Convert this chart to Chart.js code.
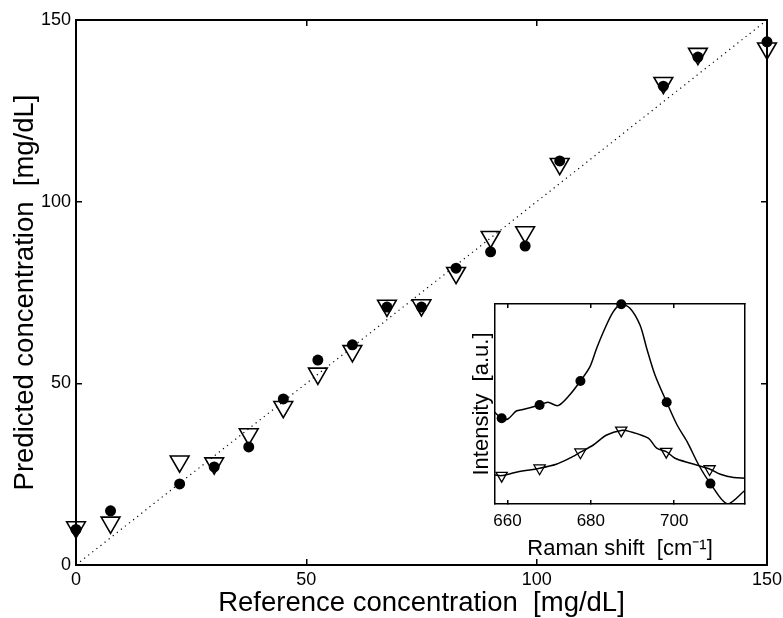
<!DOCTYPE html>
<html lang="en">
<head>
<meta charset="UTF-8">
<title>Predicted vs reference concentration</title>
<script src="https://cdn.jsdelivr.net/npm/chart.js@4.4.3/dist/chart.umd.min.js"></script>
<style>
  body { margin: 0; background: #fff; }
  #wrap { position: relative; width: 783px; height: 618px; }
  #main { position: absolute; left: 0; top: 0; }
  #inset { position: absolute; left: 462px; top: 296px; }
</style>
</head>
<body>
<div id="wrap">
  <canvas id="main" width="783" height="618"></canvas>
  <canvas id="inset" width="296" height="266"></canvas>
</div>
<script>
// main plot: reference vs predicted (mg/dL)
const refConc = [0, 7.5, 22.5, 30, 37.5, 45, 52.5, 60, 67.5, 75, 82.5, 90, 97.5, 105, 127.5, 135, 150];
const predCircle = [9.8, 14.9, 22.3, 27.0, 32.5, 45.7, 56.4, 60.6, 71.0, 71.0, 81.7, 86.2, 87.8, 111.2, 131.8, 139.8, 144.0];
const predTriangle = [10.4, 11.7, 28.5, 28.0, 36.0, 43.5, 52.7, 58.9, 71.4, 71.5, 80.4, 90.3, 91.6, 110.4, 132.7, 140.7, 142.2];
const identity = [0, 150];
const mainTicks = [0, 50, 100, 150];

// inset: Raman spectra around the peak
const circleShift = [656.9, 658.6, 660.1, 662.1, 663.7, 667.7, 669.7, 672.1, 674.9, 677.5, 679.8, 681.4, 683.4, 685.4, 687.3, 689.4, 691.8, 693.4, 695.4, 698.2, 700.7, 703.1, 705.9, 708.7, 712.8, 717.1];
const circleCurve = [45.9, 42.9, 42.5, 46.5, 47.2, 49.5, 50.9, 49.2, 54.5, 61.5, 68.7, 77.9, 87.9, 96.2, 99.9, 97.9, 89.5, 77.9, 64.5, 50.9, 39.5, 31.2, 19.5, 10.2, 0, 7];
const triShift = [656.9, 658.6, 662.1, 667.7, 671.7, 674.9, 677.5, 680.6, 683.8, 687.3, 689.4, 693.8, 695.8, 698.1, 700.2, 703.9, 708.5, 711.1, 714.3, 717.1];
const triCurve = [14.5, 14.2, 15.9, 17.9, 19.9, 22.9, 25.9, 29.5, 34.5, 36.8, 36.2, 32.9, 27.9, 26.2, 22.9, 20.4, 17.5, 14.9, 13.2, 12.9];
const circleMarkX = [658.6, 667.7, 677.5, 687.3, 698.2, 708.7];
const circleMarkY = [42.9, 49.5, 61.5, 99.9, 50.9, 10.2];
const triMarkX = [658.6, 667.7, 677.5, 687.3, 698.1, 708.5];
const triMarkY = [14.2, 17.9, 25.9, 36.8, 26.2, 17.5];
const insetTicks = [660, 680, 700];

Chart.defaults.font.family = '"Liberation Sans", Arial, Helvetica, sans-serif';
Chart.defaults.color = '#000';

const pts = (xs, ys) => xs.map((x, i) => ({ x: x, y: ys[i] }));
const fixedTicks = list => scale => { scale.ticks = list.map(v => ({ value: v })); };

// axis with inward ticks, like the original figure
function axis(pos, min, max, ticks, size, opts) {
    const horiz = pos === 'top' || pos === 'bottom';
    return Object.assign({
        type: 'linear',
        position: pos,
        min: min,
        max: max,
        afterBuildTicks: fixedTicks(ticks),
        afterFit: s => {
            // fixed box size, no extra room for end labels
            if (horiz) { s.height = size; s.paddingLeft = 0; s.paddingRight = 0; }
            else { s.width = size; s.paddingTop = 0; s.paddingBottom = 0; }
        },
        grid: { drawOnChartArea: false, drawTicks: true, tickLength: -opts.tick, color: '#000', lineWidth: 1.5 },
        border: { color: '#000', width: opts.border },
        ticks: { display: false }
    }, opts.extra || {});
}

new Chart(document.getElementById('main'), {
    type: 'scatter',
    data: {
        datasets: [
            {
                label: 'circles',
                data: pts(refConc, predCircle),
                pointStyle: 'circle',
                pointRadius: 5.5,
                pointBackgroundColor: '#000',
                pointBorderColor: '#000',
                pointBorderWidth: 0,
                clip: false
            },
            {
                label: 'triangles',
                data: pts(refConc, predTriangle),
                pointStyle: 'triangle',
                pointRotation: 180,
                pointRadius: 10.8,
                pointBackgroundColor: 'rgba(0,0,0,0)',
                pointBorderColor: '#000',
                pointBorderWidth: 1.6,
                clip: false
            },
            {
                label: 'y = x',
                data: pts(identity, identity),
                showLine: true,
                pointRadius: 0,
                borderColor: '#000',
                borderWidth: 1.2,
                borderDash: [1.2, 4]
            }
        ]
    },
    options: {
        responsive: false,
        animation: false,
        layout: { padding: { top: 20, right: 16, left: 0, bottom: 0 } },
        plugins: { legend: { display: false }, tooltip: { enabled: false } },
        scales: {
            x: axis('bottom', 0, 150, mainTicks, 53, { tick: 6, border: 2, extra: {
                ticks: { display: true, padding: 10, maxRotation: 0, font: { size: 18 } },
                title: { display: true, text: 'Reference concentration  [mg/dL]', font: { size: 27.5, lineHeight: 1 }, padding: { top: 0, bottom: 1 } }
            } }),
            y: axis('left', 0, 150, mainTicks, 76, { tick: 6, border: 2, extra: {
                ticks: { display: true, padding: 11, font: { size: 18 } },
                title: { display: true, text: 'Predicted concentration  [mg/dL]', font: { size: 27.5, lineHeight: 1 }, padding: { top: 12, bottom: 0 } }
            } }),
            x2: axis('top', 0, 150, mainTicks, 0, { tick: 6, border: 2 }),
            y2: axis('right', 0, 150, mainTicks, 0, { tick: 6, border: 2 })
        }
    }
});

new Chart(document.getElementById('inset'), {
    type: 'scatter',
    data: {
        datasets: [
            {
                label: 'circle marks',
                data: pts(circleMarkX, circleMarkY),
                pointStyle: 'circle',
                pointRadius: 5,
                pointBackgroundColor: '#000',
                pointBorderWidth: 0,
                clip: false
            },
            {
                label: 'triangle marks',
                data: pts(triMarkX, triMarkY),
                pointStyle: 'triangle',
                pointRotation: 180,
                pointRadius: 6.5,
                pointBackgroundColor: 'rgba(0,0,0,0)',
                pointBorderColor: '#000',
                pointBorderWidth: 1.3,
                clip: false
            },
            {
                label: 'circle spectrum',
                data: pts(circleShift, circleCurve),
                showLine: true,
                pointRadius: 0,
                borderColor: '#000',
                borderWidth: 1.5,
                tension: 0.3
            },
            {
                label: 'triangle spectrum',
                data: pts(triShift, triCurve),
                showLine: true,
                pointRadius: 0,
                borderColor: '#000',
                borderWidth: 1.5,
                tension: 0.3
            }
        ]
    },
    options: {
        responsive: false,
        animation: false,
        layout: { padding: { top: 8, right: 13, left: 0, bottom: 0 } },
        plugins: { legend: { display: false }, tooltip: { enabled: false } },
        scales: {
            x: axis('bottom', 657, 717, insetTicks, 58, { tick: 4, border: 1.5, extra: {
                ticks: { display: true, padding: 11, maxRotation: 0, font: { size: 17 } },
                title: { display: true, text: 'Raman shift  [cm\u207B\u00B9]', font: { size: 22, lineHeight: 1 }, padding: { top: 0, bottom: 2 } }
            } }),
            y: axis('left', 0, 100, [], 33, { tick: 0, border: 1.5, extra: {
                title: { display: true, text: 'Intensity  [a.u.]', font: { size: 22, lineHeight: 1 }, padding: { top: 9, bottom: 0 } }
            } }),
            x2: axis('top', 657, 717, insetTicks, 0, { tick: 4, border: 1.5 }),
            y2: axis('right', 0, 100, [], 0, { tick: 0, border: 1.5 })
        }
    }
});
</script>
</body>
</html>
